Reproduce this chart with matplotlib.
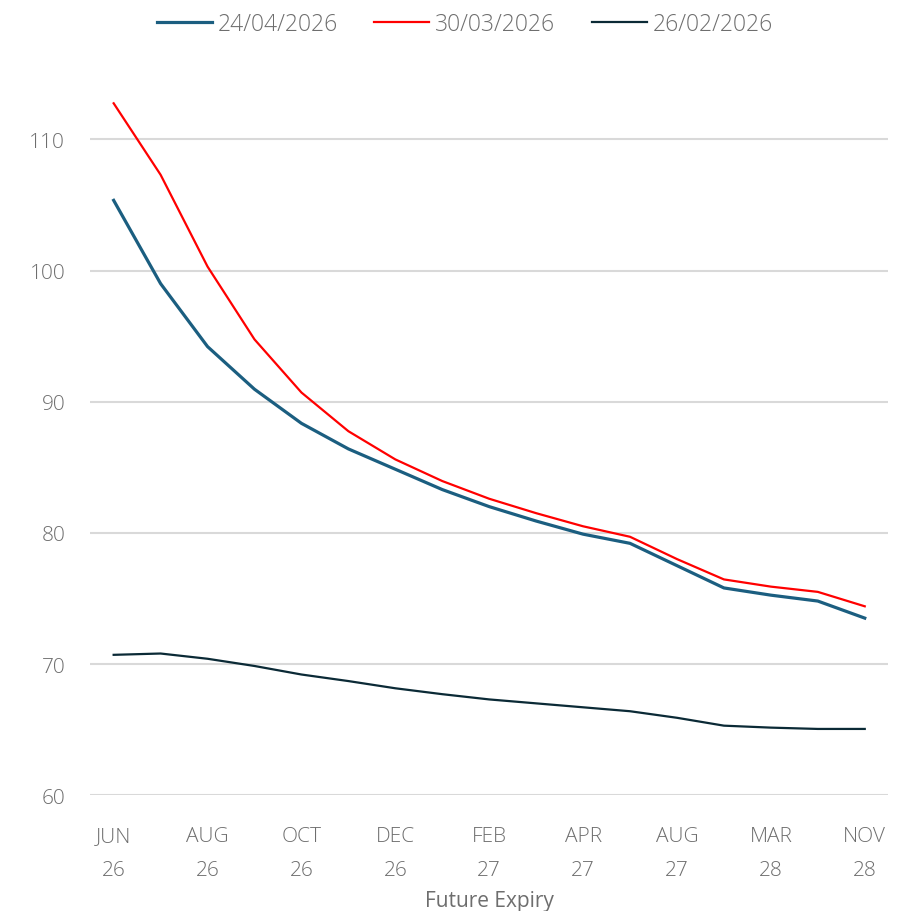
import matplotlib.pyplot as plt
from matplotlib import rcParams

rcParams.update({
    "font.family": ["Open Sans", "DejaVu Sans"],
    "font.weight": "light",
    "font.size": 15,
})

months = ["JUN\n26", "", "AUG\n26", "", "OCT\n26", "", "DEC\n26", "", "FEB\n27", "",
          "APR\n27", "", "AUG\n27", "", "MAR\n28", "", "NOV\n28"]
s_2404 = [105.35, 99.0, 94.2, 90.95, 88.35, 86.4, 84.85, 83.3, 82.0, 80.9,
          79.9, 79.2, 77.5, 75.8, 75.25, 74.8, 73.5]
s_3003 = [112.75, 107.3, 100.3, 94.75, 90.7, 87.75, 85.6, 83.95, 82.6, 81.5,
          80.5, 79.7, 78.0, 76.45, 75.9, 75.5, 74.4]
s_2602 = [70.7, 70.8, 70.4, 69.85, 69.2, 68.7, 68.15, 67.7, 67.3, 67.0,
          66.7, 66.4, 65.9, 65.3, 65.15, 65.05, 65.05]

x = range(len(months))
fig = plt.figure(figsize=(9.11, 9.12), dpi=100)
ax = fig.add_axes([0.099, 0.127, 0.876, 0.791])

ax.plot(x, s_2404, color="#1b5e80", lw=2.3, label="24/04/2026")
ax.plot(x, s_3003, color="#ff0000", lw=1.6, label="30/03/2026")
ax.plot(x, s_2602, color="#0b2a36", lw=1.6, label="26/02/2026")

ax.set_xlim(-0.5, 16.5)
ax.set_ylim(60, 115)
ax.set_yticks(range(60, 111, 10))
ax.set_xticks(list(x))
ax.set_xticklabels(months, linespacing=1.95)
ax.grid(axis="y", color="#d9d9d9", lw=1.5)
ax.set_axisbelow(True)
for sp in ax.spines.values():
    sp.set_visible(False)
ax.tick_params(length=0, colors="#6e6e6e", labelsize=15)
ax.tick_params(axis="x", pad=22)
ax.tick_params(axis="y", pad=18)
ax.set_xlabel("Future Expiry", color="#6e6e6e", fontsize=15, labelpad=7)

fig.legend(loc="upper center", bbox_to_anchor=(0.51, 1.008), ncol=3, frameon=False,
           labelcolor="#6e6e6e", fontsize=16.5, handlelength=2.4, handletextpad=0.25,
           columnspacing=1.6)

plt.savefig("out.png", dpi=100)
